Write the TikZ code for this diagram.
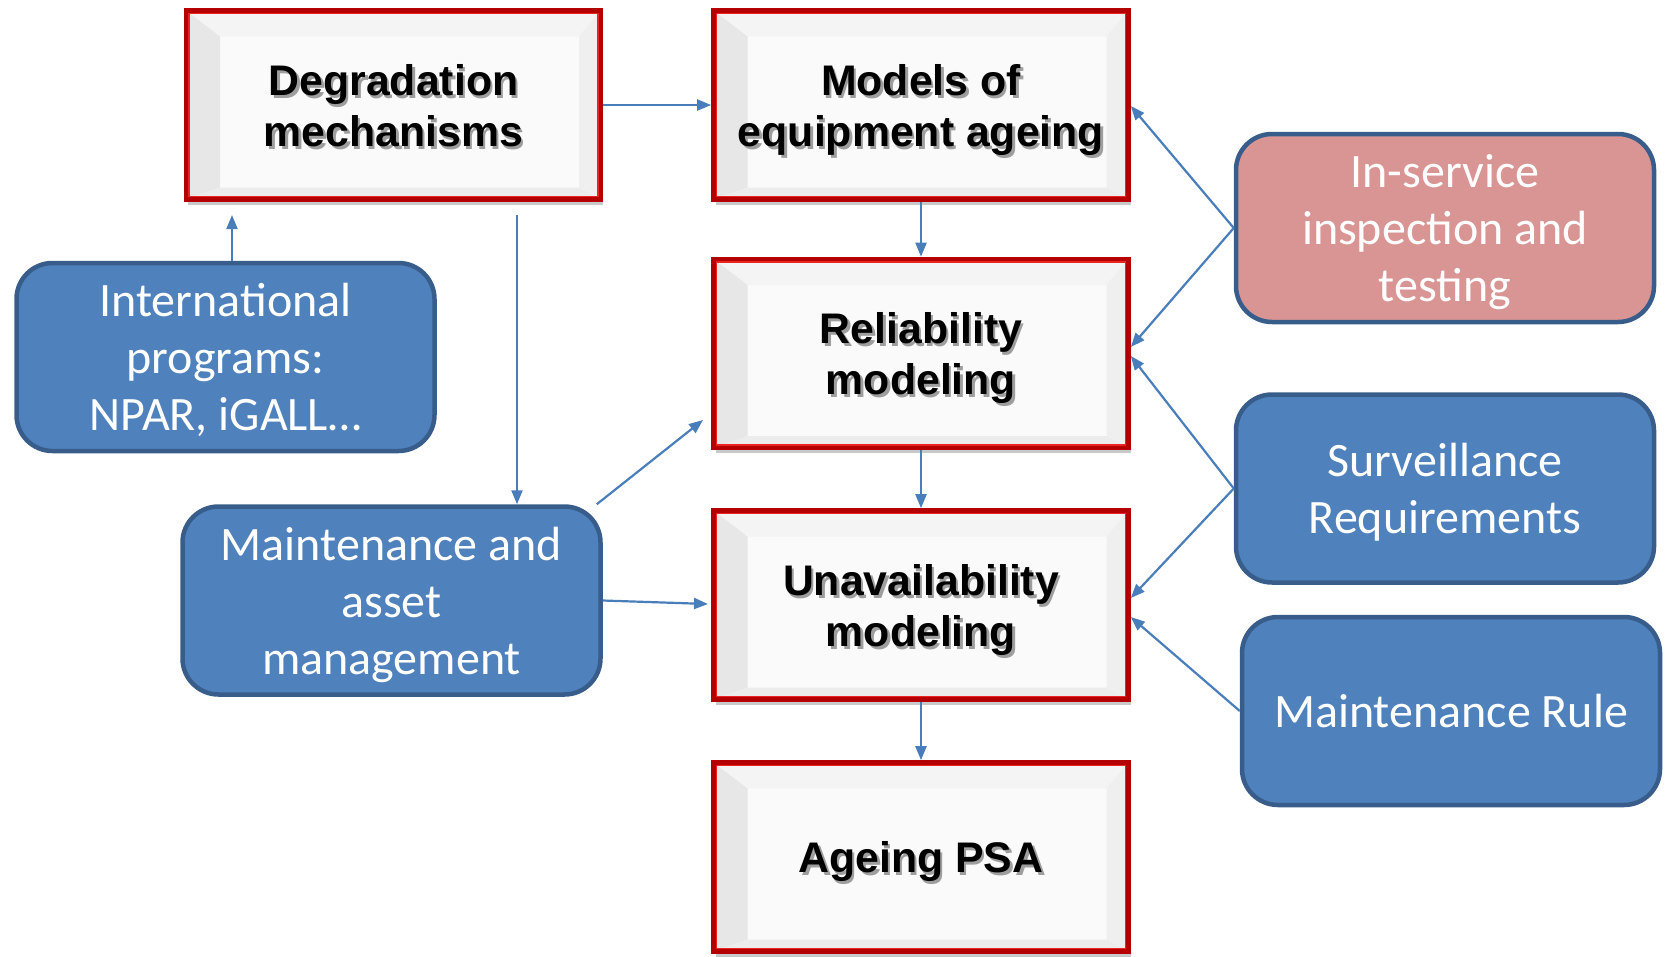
\documentclass[tikz,border=0pt]{standalone}
\usepackage{fontspec}
\setmainfont{Liberation Sans}
\newfontfamily\calfont{Carlito}
\usetikzlibrary{arrows.meta,shadows,calc}

\definecolor{boxred}{RGB}{180,0,0}
\definecolor{boxredlight}{RGB}{235,35,35}
\definecolor{blueFill}{RGB}{79,129,189}
\definecolor{blueEdge}{RGB}{56,93,138}
\definecolor{pinkFill}{RGB}{217,149,148}
\definecolor{arrowblue}{RGB}{74,126,187}
\definecolor{bevelC}{RGB}{250,250,250}
\definecolor{bevelT}{RGB}{244,244,244}
\definecolor{bevelL}{RGB}{231,231,231}
\definecolor{bevelR}{RGB}{239,239,239}
\definecolor{bevelB}{RGB}{236,236,236}

% line whose descenders are ignored when the text block is centred
\newcommand{\nd}[1]{\raisebox{0pt}[\height][0pt]{#1}}
% bold heading line with a soft dark shadow behind it
\newcommand{\shd}[1]{\nd{\makebox[0pt][l]{\kern2.5pt\raisebox{-3pt}{\textcolor{black!38}{#1}}}#1}}
% bevel widths: left, top, right, bottom
\newcommand{\bvL}{34pt}
\newcommand{\bvT}{26pt}
\newcommand{\bvR}{22pt}
\newcommand{\bvB}{12pt}

\begin{document}
\begin{tikzpicture}[x=1pt,y=-1pt,
  redbox/.style={draw=boxred, line width=4.6pt, fill=bevelC,
    minimum width=415pt, minimum height=189pt, inner sep=0pt,
    align=center, font=\fontsize{42.8}{51}\selectfont\bfseries,
    drop shadow={shadow xshift=2pt, shadow yshift=-5pt, opacity=0.3, fill=black!70},
    path picture={
      \fill[bevelT] (path picture bounding box.north west) -- (path picture bounding box.north east)
        -- ([shift={(-\bvR,-\bvT)}]path picture bounding box.north east)
        -- ([shift={(\bvL,-\bvT)}]path picture bounding box.north west) -- cycle;
      \fill[bevelL] (path picture bounding box.north west)
        -- ([shift={(\bvL,-\bvT)}]path picture bounding box.north west)
        -- ([shift={(\bvL,\bvB)}]path picture bounding box.south west)
        -- (path picture bounding box.south west) -- cycle;
      \fill[bevelR] (path picture bounding box.north east)
        -- ([shift={(-\bvR,-\bvT)}]path picture bounding box.north east)
        -- ([shift={(-\bvR,\bvB)}]path picture bounding box.south east)
        -- (path picture bounding box.south east) -- cycle;
      \fill[bevelB] (path picture bounding box.south west)
        -- ([shift={(\bvL,\bvB)}]path picture bounding box.south west)
        -- ([shift={(-\bvR,\bvB)}]path picture bounding box.south east)
        -- (path picture bounding box.south east) -- cycle;
      \draw[boxredlight, line width=1.5pt]
        ([shift={(3.2pt,-3.2pt)}]path picture bounding box.north west) rectangle
        ([shift={(-3.2pt,3.2pt)}]path picture bounding box.south east);
    }},
  bluebox/.style={draw=blueEdge, line width=4.5pt, fill=blueFill,
    rounded corners=36pt, minimum width=418pt, minimum height=188pt,
    inner sep=0pt, text=white, align=center,
    font=\calfont\fontsize{48}{57}\selectfont},
  arr/.style={draw=arrowblue, line width=2.2pt, -{Triangle[length=14pt,width=11pt]}}
]
\useasboundingbox (0,0) rectangle (1667,956);

% central chain of modelling steps
\node[redbox] (deg) at (393.5,105) {\shd{Degradation}\\\shd{mechanisms}};
\node[redbox] (mod) at (921,105) {\shd{Models of}\\\shd{equipment ageing}};
\node[redbox] (rel) at (921,353.5) {\shd{Reliability}\\\shd{modeling}};
\node[redbox] (una) at (921,605) {\shd{Unavailability}\\\shd{modeling}};
\node[redbox] (psa) at (921,857) {\shd{Ageing PSA}};

% inputs
\node[bluebox] (int) at (225.5,357) {International\\programs:\\\nd{NPAR, iGALL…}};
\node[bluebox] (man) at (391.5,600.5) {Maintenance and\\asset\\\nd{management}};
\node[bluebox, fill=pinkFill] (isv) at (1445,228) {In-service\\inspection and\\\nd{testing}};
\node[bluebox] (sur) at (1445,488.5) {Surveillance\\\nd{Requirements}};
\node[bluebox] (mru) at (1451,711) {Maintenance Rule};

% free ends of connectors
\coordinate (intTip) at (232,215);
\coordinate (degDrop) at (517,215);
\coordinate (relIn) at (703,420);
\coordinate (unaIn) at (708,604);

% connectors
\draw[arr] (deg.east) -- (mod.west);
\draw[arr] (int.north -| intTip) -- (intTip);
\draw[arr] (degDrop) -- (man.north -| degDrop);
\draw[arr] ([xshift=-6pt]man.north east) -- (relIn);
\draw[arr] (man.east) -- (unaIn);
\draw[arr] (mod.south) -- (rel.north);
\draw[arr] (rel.south) -- (una.north);
\draw[arr] (una.south) -- (psa.north);
\draw[arr] (isv.west) -- ([yshift=-1pt]mod.east);
\draw[arr] (isv.west) -- ([yshift=6.5pt]rel.east);
\draw[arr] (sur.west) -- ([yshift=-2.5pt]rel.east);
\draw[arr] (sur.west) -- ([yshift=7pt]una.east);
\draw[arr] (mru.west) -- ([yshift=-12pt]una.east);
\end{tikzpicture}
\end{document}
